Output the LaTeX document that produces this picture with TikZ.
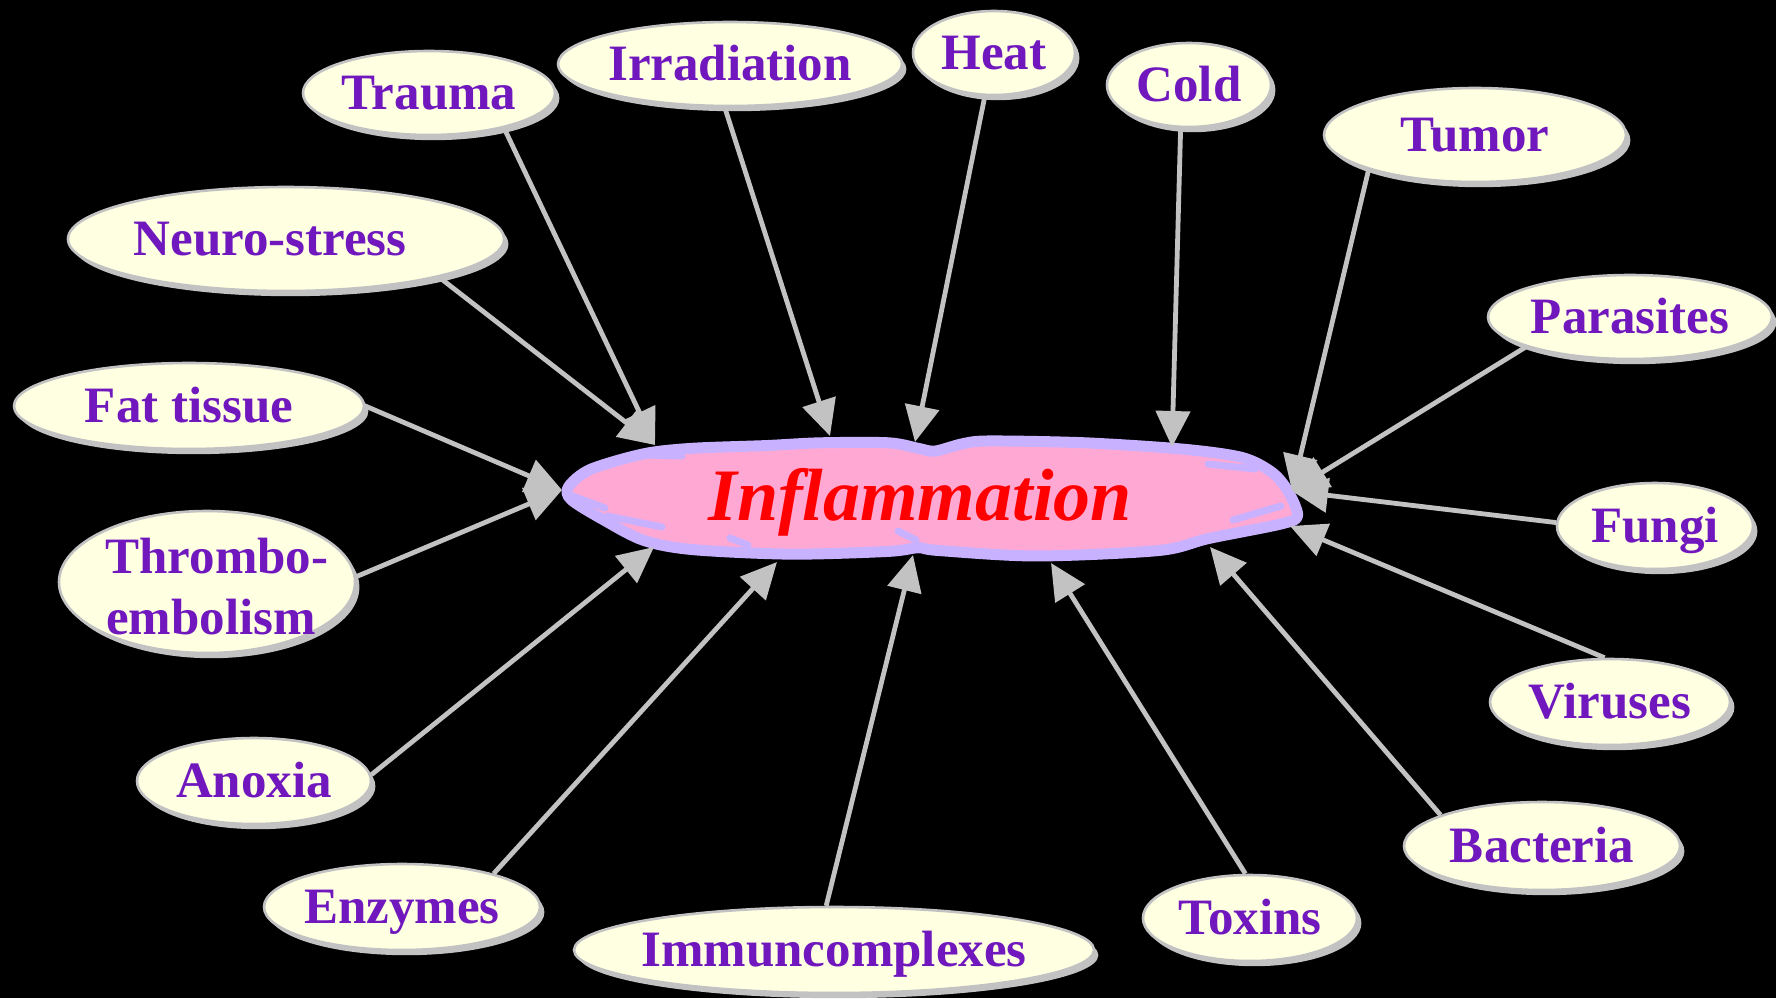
\documentclass[tikz,border=0pt]{standalone}
\usepackage{fontspec}
\setmainfont{Liberation Serif}
\usetikzlibrary{shapes.geometric,arrows.meta,shadows}
\definecolor{lyellow}{RGB}{255,255,226}
\definecolor{purp}{RGB}{112,24,190}
\definecolor{bgray}{RGB}{194,194,194}
\definecolor{pinkf}{RGB}{255,168,212}
\definecolor{lav}{RGB}{200,178,255}
\newcommand\lbl[2][0pt]{\makebox[0pt]{\kern#1\raisebox{-0.33em}[0pt][0pt]{#2}\kern-#1}}
\tikzset{
  cause/.style={ellipse, inner sep=0pt, fill=lyellow, draw=bgray, line width=1.3pt,
    text=purp, font=\bfseries\fontsize{25.5}{30}\selectfont,
    drop shadow={shadow xshift=2.2pt, shadow yshift=-2.6pt, fill=bgray, opacity=1}},
  arr/.style={draw=bgray, line width=2.4pt, -{Triangle[length=18pt,width=17pt]}},
  scrib/.style={draw=lav, line width=3.5pt, line cap=round}
}
\begin{document}
\begin{tikzpicture}[x=0.5pt,y=-0.5pt]
\useasboundingbox (0,0) rectangle (1776,998);
\fill[black] (0,0) rectangle (1776,998);

% central blob
\begin{scope}[shift={(932,498)}, xscale=0.988, yscale=0.92, shift={(-932,-498)}]
\filldraw[fill=pinkf, draw=lav, line width=5.5pt, line join=round]
  plot[smooth cycle, tension=0.5] coordinates {
  (564,486) (586,467) (640,450) (689,444) (764,441) (819,438) (888,438) (918,444)
  (935,447) (963,439) (990,436) (1087,438) (1187,445) (1246,454) (1276,470)
  (1292,490) (1302,517) (1286,526) (1212,542) (1162,555) (1037,561) (938,555)
  (918,552) (888,556) (789,559) (689,554) (640,544) (600,522) (567,500)};
\end{scope}
\draw[scrib] (570,495) -- (605,508);
\draw[scrib] (607,516) -- (662,527);
\draw[scrib] (644,455) -- (682,456);
\draw[scrib] (898,531) -- (916,540);
\draw[scrib] (1233,520) -- (1281,506);
\draw[scrib] (1208,464) -- (1255,469);
\draw[scrib] (730,538) -- (748,545);
\node[anchor=base, text=red, font=\bfseries\itshape\fontsize{37}{40}\selectfont] (infl) at (920,520) {Inflammation};

% causes
\node[cause, minimum width=126pt, minimum height=42pt] (trauma) at (429,93) {\lbl{Trauma}};
\node[cause, minimum width=172pt, minimum height=42pt] (irrad) at (730,64) {\lbl{Irradiation}};
\node[cause, minimum width=81pt, minimum height=42pt] (heat) at (994,53) {\lbl{Heat}};
\node[cause, minimum width=82pt, minimum height=42pt] (cold) at (1189,85) {\lbl{Cold}};
\node[cause, minimum width=151pt, minimum height=47pt] (tumor) at (1475,135) {\lbl{Tumor}};
\node[cause, minimum width=218pt, minimum height=52pt] (neuro) at (286,239) {\lbl[-8pt]{Neuro-stress}};
\node[cause, minimum width=142pt, minimum height=42pt] (parasites) at (1630,317) {\lbl{Parasites}};
\node[cause, minimum width=175pt, minimum height=43pt] (fat) at (189,406) {\lbl{Fat tissue}};
\node[cause, minimum width=98pt, minimum height=43pt] (fungi) at (1655,526) {\lbl{Fungi}};
\node[cause, minimum width=148pt, minimum height=71pt] (thrombo) at (207,582)
  {\makebox[0pt]{\kern5pt\raisebox{0.16em}[0pt][0pt]{\makebox[0pt]{Thrombo-}}\kern-5pt}\makebox[0pt]{\kern2pt\raisebox{-1.02em}[0pt][0pt]{\makebox[0pt]{embolism}}\kern-2pt}};
\node[cause, minimum width=120pt, minimum height=43pt] (viruses) at (1610,702) {\lbl{Viruses}};
\node[cause, minimum width=117pt, minimum height=43pt] (anoxia) at (254,781) {\lbl{Anoxia}};
\node[cause, minimum width=138pt, minimum height=44pt] (bacteria) at (1542,846) {\lbl{Bacteria}};
\node[cause, minimum width=138pt, minimum height=43pt] (enzymes) at (402,907) {\lbl{Enzymes}};
\node[cause, minimum width=260pt, minimum height=43pt] (immun) at (834,950) {\lbl{Immuncomplexes}};
\node[cause, minimum width=107pt, minimum height=43pt] (toxins) at (1250,918) {\lbl{Toxins}};

% arrow tips on the blob
\coordinate (tA) at (655,445);
\coordinate (tIrr) at (830,436);
\coordinate (tHeat) at (915,442);
\coordinate (tCold) at (1172,447);
\coordinate (tR) at (1292,491);
\coordinate (tVir) at (1290,526);
\coordinate (tBac) at (1210,547);
\coordinate (tTox) at (1051,563);
\coordinate (tImm) at (913,555);
\coordinate (tEnz) at (777,562);
\coordinate (tAnox) at (654,547);
\coordinate (tL) at (562,490);

\draw[arr] (trauma.-25) -- (tA);
\draw[arr] (neuro.-14) -- (tA);
\draw[arr] (irrad.-97) -- (tIrr);
\draw[arr] (heat.-102) -- (tHeat);
\draw[arr] (cold.-101) -- (tCold);
\draw[arr] (tumor.-162) -- (tR);
\draw[arr] (parasites.-164) -- (tR);
\draw[arr] (fungi.178) -- (tR);
\draw[arr] (viruses.97) -- (tVir);
\draw[arr] (bacteria.163) -- (tBac);
\draw[arr] (toxins.96) -- (tTox);
\draw[arr] (immun.100) -- (tImm);
\draw[arr] (enzymes.20) -- (tEnz);
\draw[arr] (anoxia.3) -- (tAnox);
\draw[arr] (thrombo.2) -- (tL);
\draw[arr] (fat.0) -- (tL);
\end{tikzpicture}
\end{document}
